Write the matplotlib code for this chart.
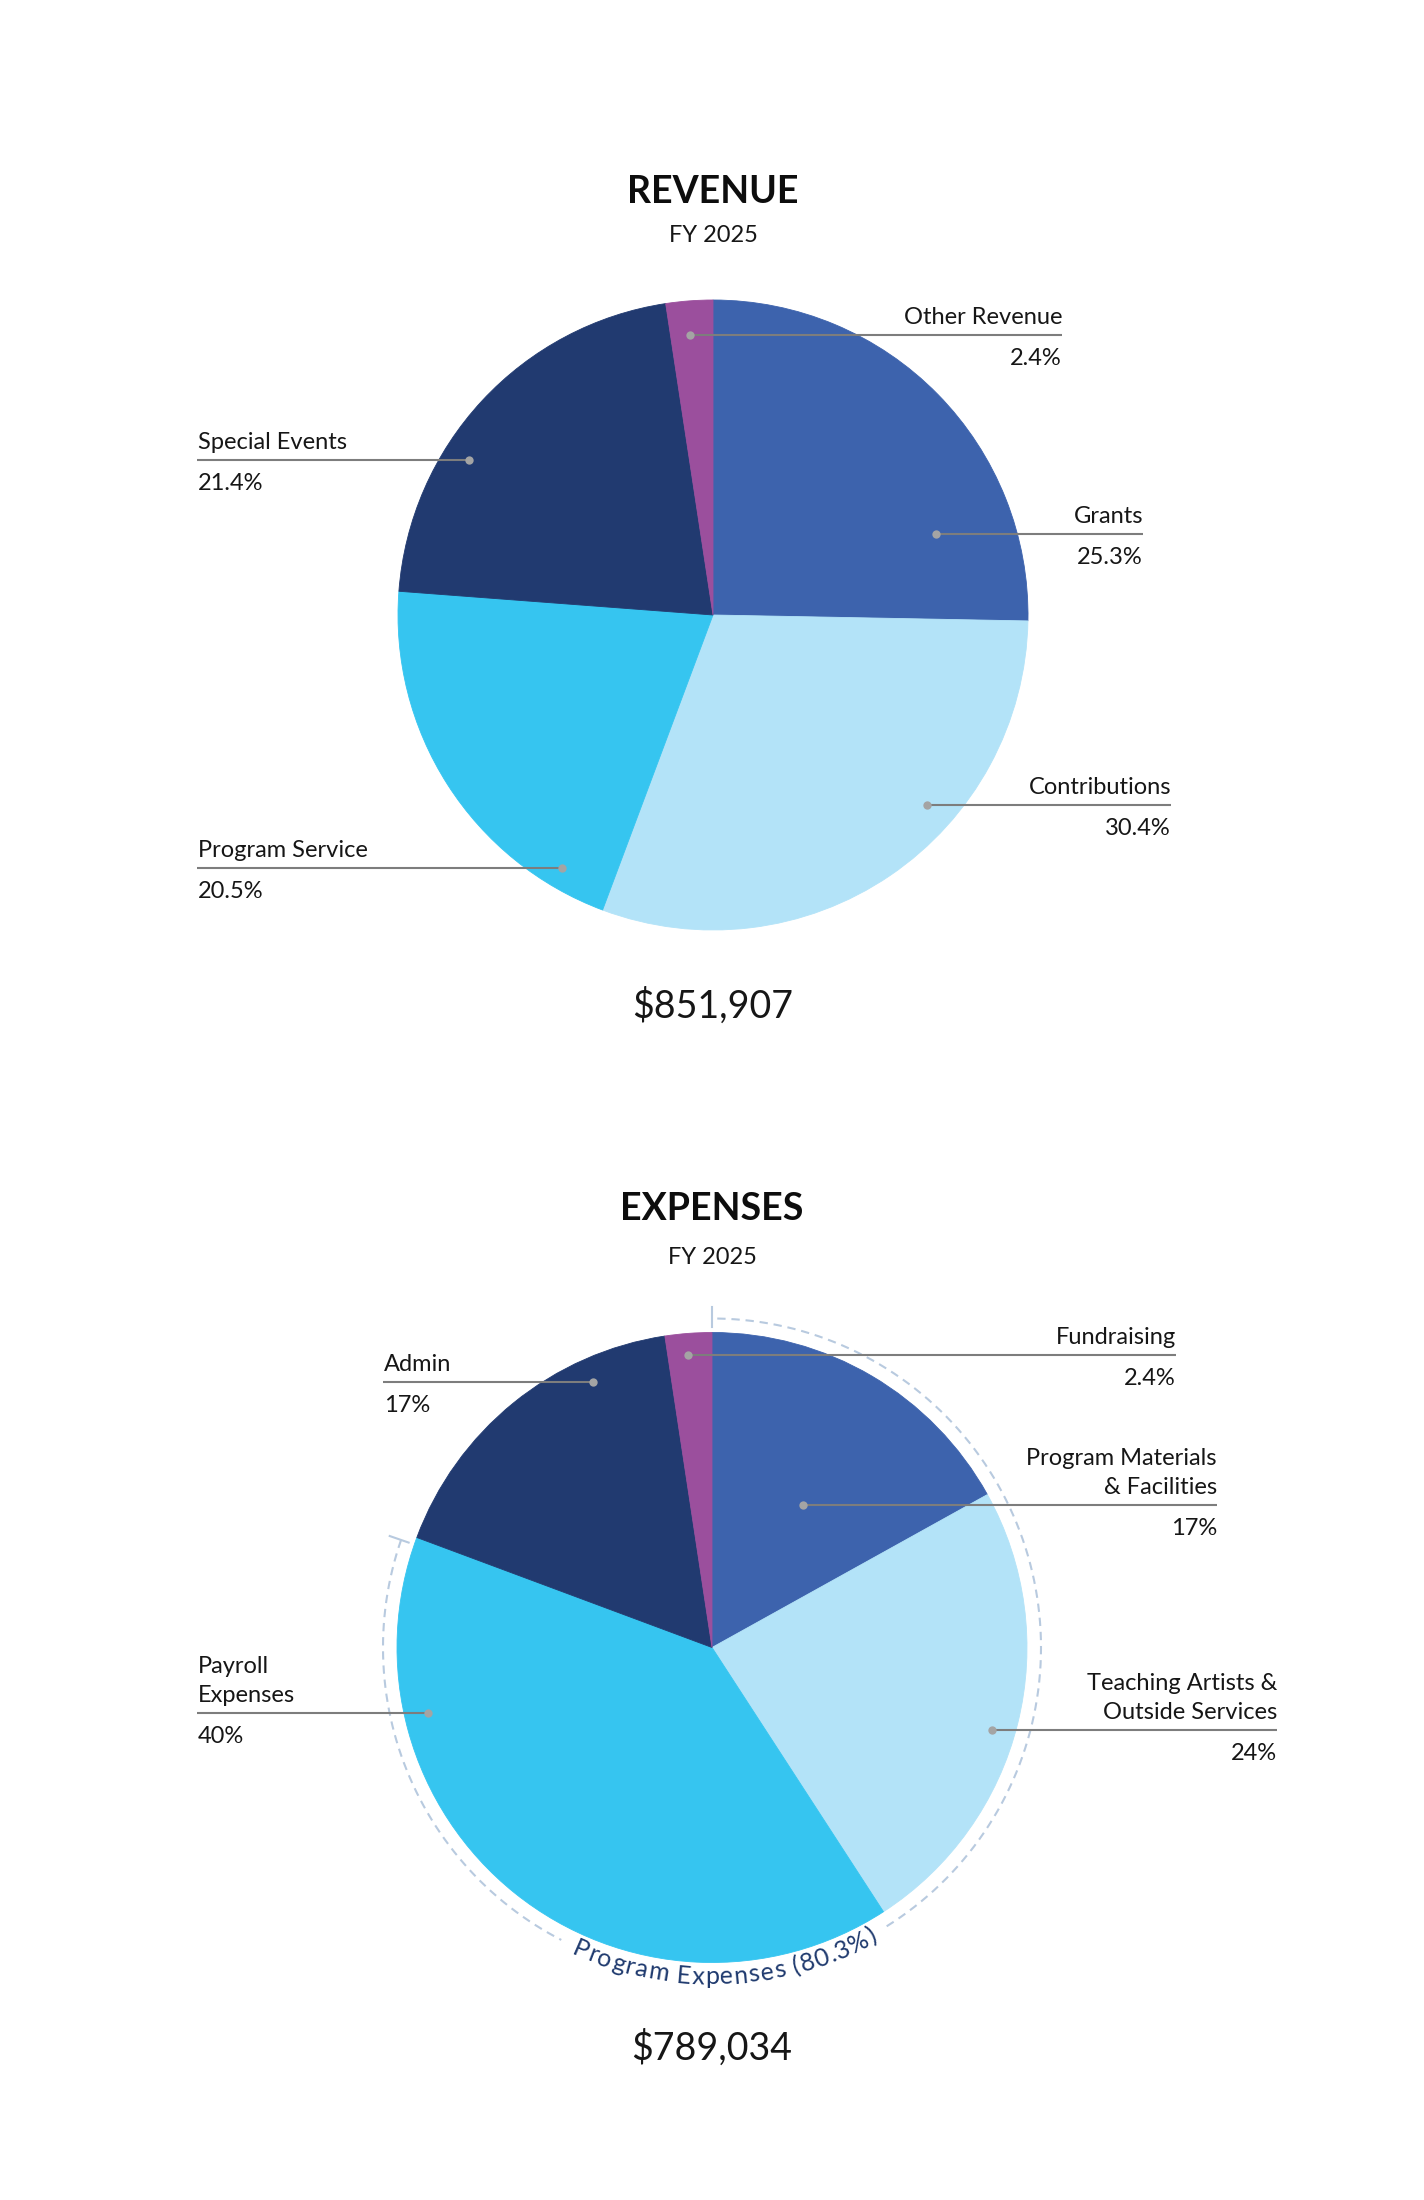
import numpy as np
import matplotlib
matplotlib.use('Agg')
import matplotlib.pyplot as plt

W, H = 1424, 2200

# ---- data ----
fiscal_year = 'FY 2025'

rev_labels = ['Grants', 'Contributions', 'Program Service', 'Special Events', 'Other Revenue']
rev_values = [25.3, 30.4, 20.5, 21.4, 2.4]
rev_total = 851907

exp_labels = ['Program Materials\n& Facilities', 'Teaching Artists &\nOutside Services',
              'Payroll\nExpenses', 'Admin', 'Fundraising']
exp_values = [17, 24, 40, 17, 2.4]
exp_total = 789034
program_share = 80.3   # share of expenses going to programs (first three slices)

colors = ['#3d63ad', '#b3e3f8', '#36c5f0', '#213a70', '#9b4f9d']

# ---- layout (pixels, measured from the top-left corner) ----
# dot x, dot y, outer end of the leader line
rev_layout = [(936, 534, 1143), (927, 805, 1171), (562, 868, 197), (469, 460, 197), (690, 335, 1062)]
exp_layout = [(803, 1505, 1217), (992, 1730, 1277), (428, 1713, 197), (593, 1382, 383), (688, 1355, 1176)]

plt.rcParams['font.family'] = ['Lato', 'DejaVu Sans']
TXT = '#161616'
LINE = '#7d7d7d'
DOT = '#a4a4a4'


def Y(y):
    return H - y


fig = plt.figure(figsize=(W / 100, H / 100), dpi=100)
ax = fig.add_axes([0, 0, 1, 1])


def draw_block(title, labels, values, total, cx, cy, r, layout, title_y, fy_y, amount_y):
    wedges, _ = ax.pie(values, colors=colors, startangle=90, counterclock=False,
                       center=(cx, Y(cy)), radius=r, wedgeprops=dict(linewidth=0.6))
    for w, c in zip(wedges, colors):
        w.set_edgecolor(c)

    ax.text(cx, Y(title_y), title, ha='center', va='baseline', fontsize=27,
            fontweight='bold', color='#0d0d0d')
    ax.text(cx, Y(fy_y), fiscal_year, ha='center', va='baseline', fontsize=17, color=TXT)
    ax.text(cx, Y(amount_y), '${:,}'.format(total), ha='center', va='baseline',
            fontsize=27, color=TXT)

    for lab, val, (dx, dy, ex) in zip(labels, values, layout):
        right = ex > dx
        ha = 'right' if right else 'left'
        tx = ex if right else ex + 1
        ax.plot([dx, ex], [Y(dy), Y(dy)], color=LINE, lw=1.5, zorder=5, solid_capstyle='butt')
        ax.plot(dx, Y(dy), 'o', ms=6, color=DOT, mec='none', zorder=6)
        for k, line in enumerate(reversed(lab.split('\n'))):
            ax.text(tx, Y(dy - 11 - 29 * k), line, ha=ha, va='baseline', fontsize=17, color=TXT)
        ax.text(tx, Y(dy + 30), '{:g}%'.format(val), ha=ha, va='baseline', fontsize=17, color=TXT)
    return wedges


draw_block('REVENUE', rev_labels, rev_values, rev_total, 713, 615, 315,
           rev_layout, 203, 242, 1018)
draw_block('EXPENSES', exp_labels, exp_values, exp_total, 712, 1647.5, 315,
           exp_layout, 1220, 1264, 2060)

ax.set_xlim(0, W)
ax.set_ylim(0, H)
ax.axis('off')

# ---- bracket arc around the program expenses with curved label ----
cx, cy = 712, Y(1647.5)
r_arc = 329
arc_col = '#b8cadf'
start = 90.0
end = 90.0 - program_share / 100 * 360   # clockwise end angle

renderer = fig.canvas.get_renderer()
ptxt = 'Program Expenses ({:g}%)'.format(program_share)
tkw = dict(fontsize=18, color='#1f3a6e')


def text_w(s):
    t = ax.text(0, 0, s, **tkw)
    w = t.get_window_extent(renderer).width
    t.remove()
    return w


base = text_w('xx')
widths = [text_w('x' + c + 'x') - base for c in ptxt]
span = 312.0
track = (span - sum(widths)) / (len(ptxt) - 1)
mid = -87.6
theta0 = np.radians(mid) - span / 2 / r_arc
pos = 0.0
for c, w in zip(ptxt, widths):
    th = theta0 + (pos + w / 2) / r_arc
    rb = 337
    ax.text(cx + rb * np.cos(th), cy + rb * np.sin(th), c, ha='center', va='baseline',
            rotation=np.degrees(th) + 90, rotation_mode='anchor', **tkw)
    pos += w + track

gap_lo = mid - np.degrees(span / 2 / r_arc) - 2.5
gap_hi = mid + np.degrees(span / 2 / r_arc) + 2.5
for a0, a1 in [(end, gap_lo), (gap_hi, start)]:
    th = np.radians(np.linspace(a0, a1, 300))
    ax.plot(cx + r_arc * np.cos(th), cy + r_arc * np.sin(th), color=arc_col, lw=1.5,
            ls=(0, (4, 2.8)), zorder=1)
for a in [start, end]:
    th = np.radians(a)
    ax.plot([cx + 321 * np.cos(th), cx + 341 * np.cos(th)],
            [cy + 321 * np.sin(th), cy + 341 * np.sin(th)], color=arc_col, lw=1.5, zorder=1)

fig.savefig('out.png', dpi=100, facecolor='white')
